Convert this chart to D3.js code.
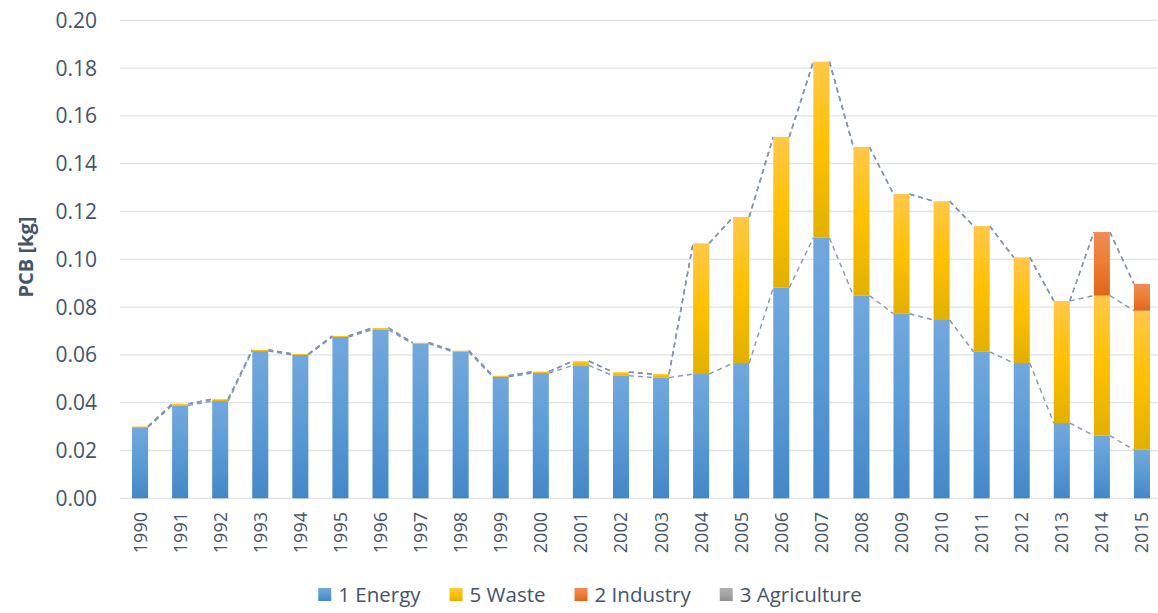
<!DOCTYPE html>
<html>
<head>
<meta charset="utf-8">
<title>PCB emissions by sector</title>
<script src="https://cdn.jsdelivr.net/npm/d3@7"></script>
<style>
body { margin:0; background:#fff; }
text { font-family:"Open Sans", sans-serif; fill:#44546a; }
</style>
</head>
<body>
<script>
// values (kg)
const years = ["1990","1991","1992","1993","1994","1995","1996","1997","1998","1999","2000","2001","2002",
    "2003","2004","2005","2006","2007","2008","2009","2010","2011","2012","2013","2014","2015"];
const energy = [0.0297,0.0388,0.0407,0.0616,0.0600,0.0675,0.0705,0.0647,0.0613,0.0508,0.0524,0.0556,0.0513,
    0.0505,0.0520,0.0566,0.0881,0.1090,0.0848,0.0772,0.0746,0.0613,0.0566,0.0315,0.0262,0.0203];
const waste = [0.0004,0.0007,0.0008,0.0005,0.0004,0.0004,0.0008,0.0004,0.0005,0.0005,0.0006,0.0018,0.0015,
    0.0015,0.0547,0.0611,0.0631,0.0737,0.0622,0.0501,0.0497,0.0526,0.0442,0.0511,0.0586,0.0582];
const industry = [0,0,0,0,0,0,0,0,0,0,0,0,0,0,0,0,0,0,0,0,0,0,0,0,0.0266,0.0112];
const agriculture = [0,0,0,0,0,0,0,0,0,0,0,0,0,0,0,0,0,0,0,0,0,0,0,0,0,0];
const seriesNames = ["1 Energy","5 Waste","2 Industry","3 Agriculture"];
const yTicks = [0,0.02,0.04,0.06,0.08,0.10,0.12,0.14,0.16,0.18,0.20];

const W = 1158, H = 613;
const svg = d3.select("body").append("svg").attr("width",W).attr("height",H);

// gradient fills, Excel-ish light top / dark bottom
const grads = [
    ["#73a8dd","#5b9bd5","#4487c8"],
    ["#ffc84a","#ffc000","#e2b000"],
    ["#f08c58","#ed7d31","#e0661a"],
    ["#b0b0b0","#a5a5a5","#8f8f8f"]
];
const defs = svg.append("defs");
grads.forEach((g,i)=>{
    const lg = defs.append("linearGradient").attr("id","g"+i)
        .attr("x1",0).attr("y1",0).attr("x2",0).attr("y2",1);
    lg.append("stop").attr("offset","0%").attr("stop-color",g[0]);
    lg.append("stop").attr("offset","50%").attr("stop-color",g[1]);
    lg.append("stop").attr("offset","100%").attr("stop-color",g[2]);
});

const x = d3.scaleBand().domain(years).range([120,1162]).paddingInner(0.6).paddingOuter(0.3);
const y = d3.scaleLinear().domain([0,0.20]).range([498.3,20.3]);

// gridlines
svg.append("g").selectAll("line").data(yTicks).join("line")
    .attr("x1",120).attr("x2",1162)
    .attr("y1",d=>y(d)).attr("y2",d=>y(d))
    .attr("stroke","#dfe2e6").attr("stroke-width",1.3);

// y tick labels
svg.append("g").selectAll("text").data(yTicks).join("text")
    .attr("x",97).attr("y",d=>y(d)).attr("dy","0.36em")
    .attr("text-anchor","end").style("font-size","21px")
    .text(d=>d.toFixed(2));

svg.append("text")
    .attr("transform","translate(33,257) rotate(-90)")
    .attr("text-anchor","middle")
    .style("font-size","20px").style("font-weight","bold")
    .text("PCB [kg]");

// x tick labels
svg.append("g").selectAll("text").data(years).join("text")
    .attr("transform",d=>`translate(${x(d)+x.bandwidth()/2},512) rotate(-90)`)
    .attr("dy","0.36em").attr("text-anchor","end")
    .style("font-size","18px")
    .text(d=>d);

// stacking
const rows = years.map((yr,i)=>({year:yr, s0:energy[i], s1:waste[i], s2:industry[i], s3:agriculture[i]}));
const stack = d3.stack().keys(["s0","s1","s2","s3"])(rows);

// series lines (dashed) between adjacent bars
const lineG = svg.append("g");
stack.forEach(layer=>{
    for(let i=0;i<layer.length-1;i++){
        lineG.append("line")
            .attr("x1",x(years[i])+x.bandwidth())
            .attr("y1",y(layer[i][1]))
            .attr("x2",x(years[i+1]))
            .attr("y2",y(layer[i+1][1]))
            .attr("stroke","#8496b0").attr("stroke-width",1.4)
            .attr("stroke-dasharray","5,4");
    }
});

// bars
stack.forEach((layer,k)=>{
    svg.append("g").selectAll("rect").data(layer.filter(d=>d[1]-d[0]>0)).join("rect")
        .attr("x",d=>x(d.data.year))
        .attr("width",x.bandwidth())
        .attr("y",d=>y(d[1]))
        .attr("height",d=>y(d[0])-y(d[1]))
        .attr("fill",`url(#g${k})`);
});

// legend
const leg = svg.append("g");
let lx = 0;
seriesNames.forEach((n,i)=>{
    const it = leg.append("g").attr("transform",`translate(${lx},0)`);
    it.append("rect").attr("x",0).attr("y",-7).attr("width",13).attr("height",13).attr("fill",`url(#g${i})`);
    const t = it.append("text").attr("x",20).attr("dy","0.36em").style("font-size","20.5px").text(n);
    lx += 20 + t.node().getComputedTextLength() + 29;
});
lx -= 29;
leg.attr("transform",`translate(${590 - lx/2},595)`);
</script>
</body>
</html>
